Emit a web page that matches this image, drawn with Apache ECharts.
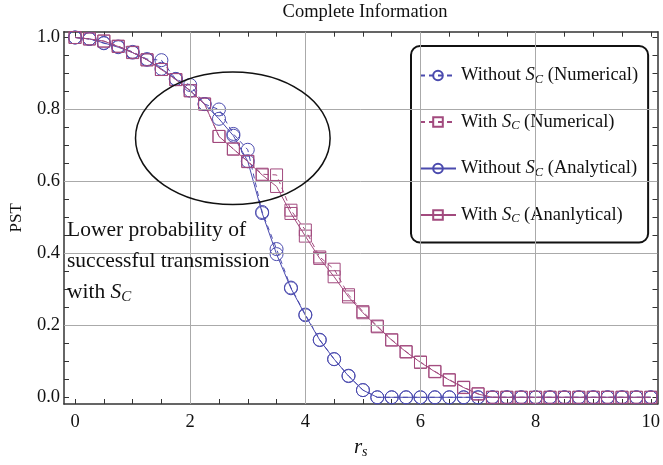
<!DOCTYPE html>
<html><head><meta charset="utf-8">
<script src="https://cdn.jsdelivr.net/npm/echarts@6/dist/echarts.min.js"></script>
<style>html,body{margin:0;padding:0;background:#fff}#c{width:663px;height:465px}</style>
</head><body><div id="c"></div>
<script>
// r_s sample points
const rs = [0,0.25,0.5,0.75,1,1.25,1.5,1.75,2,2.25,2.5,2.75,3,3.25,3.5,3.75,4,4.25,4.5,4.75,5,5.25,5.5,5.75,6,6.25,6.5,6.75,7,7.25,7.5,7.75,8,8.25,8.5,8.75,9,9.25,9.5,9.75,10];

const withoutNum = [1.0,0.996,0.984,0.975,0.960,0.940,0.937,0.884,0.868,0.815,0.800,0.732,0.688,0.515,0.412,0.305,0.230,0.160,0.106,0.060,0.020,0,0,0,0,0,0,0,0,0,0,0,0,0,0,0,0,0,0,0,0];
const withNum    = [1.0,0.996,0.990,0.976,0.959,0.938,0.911,0.883,0.852,0.815,0.725,0.690,0.656,0.620,0.618,0.520,0.465,0.390,0.356,0.285,0.238,0.198,0.160,0.127,0.098,0.072,0.049,0.028,0.010,0,0,0,0,0,0,0,0,0,0,0,0];
const withoutAna = [1.0,0.996,0.985,0.973,0.958,0.938,0.913,0.885,0.852,0.815,0.774,0.727,0.656,0.512,0.398,0.303,0.228,0.159,0.106,0.059,0.020,0,0,0,0,0,0,0,0,0,0,0,0,0,0,0,0,0,0,0,0];
const withAna    = [1.0,0.996,0.990,0.975,0.958,0.938,0.911,0.883,0.852,0.815,0.725,0.690,0.655,0.618,0.586,0.511,0.448,0.386,0.335,0.279,0.235,0.196,0.159,0.126,0.097,0.071,0.048,0.027,0.009,0,0,0,0,0,0,0,0,0,0,0,0];

const names = ['Without SC (Numerical)','With SC (Numerical)','Without SC (Analytical)','With SC (Ananlytical)'];
const xTickLabels = [0,2,4,6,8,10];
const yTickLabels = [0,0.2,0.4,0.6,0.8,1.0];
const xTicks = [0,0.5,1,1.5,2,2.5,3,3.5,4,4.5,5,5.5,6,6.5,7,7.5,8,8.5,9,9.5,10];
const yTicks = [0,0.05,0.1,0.15,0.2,0.25,0.3,0.35,0.4,0.45,0.5,0.55,0.6,0.65,0.7,0.75,0.8,0.85,0.9,0.95,1.0];
const xGrid = [2,4,6,8];
const yGrid = [0.2,0.4,0.6,0.8];

const BLUE = '#4a4aae';
const PURP = '#a24a7e';
const FONT = "'Liberation Serif', 'DejaVu Serif', serif";

const chart = echarts.init(document.getElementById('c'));

function pairs(v){ return rs.map((x,i)=>[x,v[i]]); }

function mkSeries(name, vals, color, symbol, dashed, size){
  return {
    name, type:'line', data:pairs(vals), symbol, symbolSize:size,
    itemStyle:{color:'rgba(255,255,255,0)', borderColor:color, borderWidth:1},
    lineStyle:{color, width:1, type: dashed ? [5,4] : 'solid'},
    emphasis:{disabled:true}, z:3
  };
}

const axisLineStyle = {color:'#333', width:1.5};
const tickStyle = {color:'#333', width:1};

function xAx(pos, show){
  return {
    type:'value', position:pos, min:-0.192, max:10.117,
    axisLine:{show:true, onZero:false, lineStyle:axisLineStyle},
    axisTick:{show:true, inside:true, length:5, customValues:xTicks, lineStyle:tickStyle},
    axisLabel:{show:show, customValues:xTickLabels, fontFamily:FONT, fontSize:18.5, color:'#111', margin:9},
    splitLine:{show:false},
    name: show ? '{i|r}{s|s}' : '',
    nameLocation:'middle', nameGap:26,
    nameTextStyle:{rich:{i:{fontFamily:FONT, fontStyle:'italic', fontSize:21, color:'#111'},
                         s:{fontFamily:FONT, fontStyle:'italic', fontSize:14, color:'#111', padding:[10,0,0,0]}}}
  };
}
function yAx(pos, show){
  return {
    type:'value', position:pos, min:-0.0186, max:1.0161,
    axisLine:{show:true, onZero:false, lineStyle:axisLineStyle},
    axisTick:{show:true, inside:true, length:5, customValues:yTicks, lineStyle:tickStyle},
    axisLabel:{show:show, customValues:yTickLabels, fontFamily:FONT, fontSize:18.5, color:'#111', margin:4,
               formatter:v=>v.toFixed(1)},
    splitLine:{show:false},
    name: show ? 'PST' : '', nameLocation:'middle', nameGap:39,
    nameTextStyle:{fontFamily:FONT, fontSize:17, color:'#111'}
  };
}

const legendRich = {
  t:{fontFamily:FONT, fontSize:18.5, color:'#111'},
  i:{fontFamily:FONT, fontSize:18.5, fontStyle:'italic', color:'#111'},
  s:{fontFamily:FONT, fontSize:12.5, fontStyle:'italic', color:'#111', padding:[8,0,0,0]}
};

chart.setOption({
  animation:false,
  grid:{left:61.7, right:1.3, top:31.7, bottom:61, containLabel:false},
  xAxis:[xAx('bottom', true), xAx('top', false)],
  yAxis:[yAx('left', true), yAx('right', false)],
  legend:{
    orient:'vertical', left:411, top:46, padding:[20,10,17,8], itemGap:26.5,
    itemWidth:36, itemHeight:12,
    backgroundColor:'#fff', borderColor:'#111', borderWidth:2, borderRadius:9,
    data:names,
    formatter:function(n){
      const m = n.match(/^(.*?)SC(.*)$/);
      return '{t|' + m[1] + '}{i|S}{s|C}{t|' + m[2] + '}';
    },
    textStyle:{fontFamily:FONT, fontSize:18.5, color:'#111', rich:legendRich}
  },
  series:[
    mkSeries(names[0], withoutNum, BLUE, 'circle', true, 13),
    mkSeries(names[1], withNum, PURP, 'rect', true, 12),
    mkSeries(names[2], withoutAna, BLUE, 'circle', false, 13),
    mkSeries(names[3], withAna, PURP, 'rect', false, 12),
    {
      name:'grid', type:'line', data:[], silent:true, z:1,
      markLine:{silent:true, symbol:'none', animation:false,
        label:{show:false},
        lineStyle:{color:'#aaa', type:'solid', width:1},
        emphasis:{disabled:true},
        data:[...xGrid.map(v=>({xAxis:v})), ...yGrid.map(v=>({yAxis:v}))]}
    }
  ]
});

// annotation ellipse (data coordinates)
const ellC = [2.74, 0.72], ellR = [1.69, 0.184];
const pc = chart.convertToPixel({gridIndex:0}, ellC);
const pe = chart.convertToPixel({gridIndex:0}, [ellC[0]+ellR[0], ellC[1]+ellR[1]]);
chart.setOption({
  graphic:[
    {type:'ellipse', shape:{cx:pc[0], cy:pc[1], rx:pe[0]-pc[0], ry:pc[1]-pe[1]},
     style:{fill:'none', stroke:'#111', lineWidth:1.5}, z:10, silent:true},
    {type:'text', x:365, y:12, silent:true,
     style:{text:'Complete Information', font:"18.5px 'Liberation Serif'", fill:'#111', align:'center', verticalAlign:'middle'}},
    {type:'text', x:67, y:215, silent:true, z:10,
     style:{text:'{t|Lower probability of}\n{t|successful transmission}\n{t|with }{i|S}{s|C}',
       fill:'#111',
       rich:{t:{font:"21.5px 'Liberation Serif'", lineHeight:31, fill:'#111'},
             i:{font:"italic 21.5px 'Liberation Serif'", lineHeight:31, fill:'#111'},
             s:{font:"italic 15px 'Liberation Serif'", lineHeight:31, fill:'#111', padding:[9,0,0,0]}}}}
  ]
});
</script>
</body></html>
